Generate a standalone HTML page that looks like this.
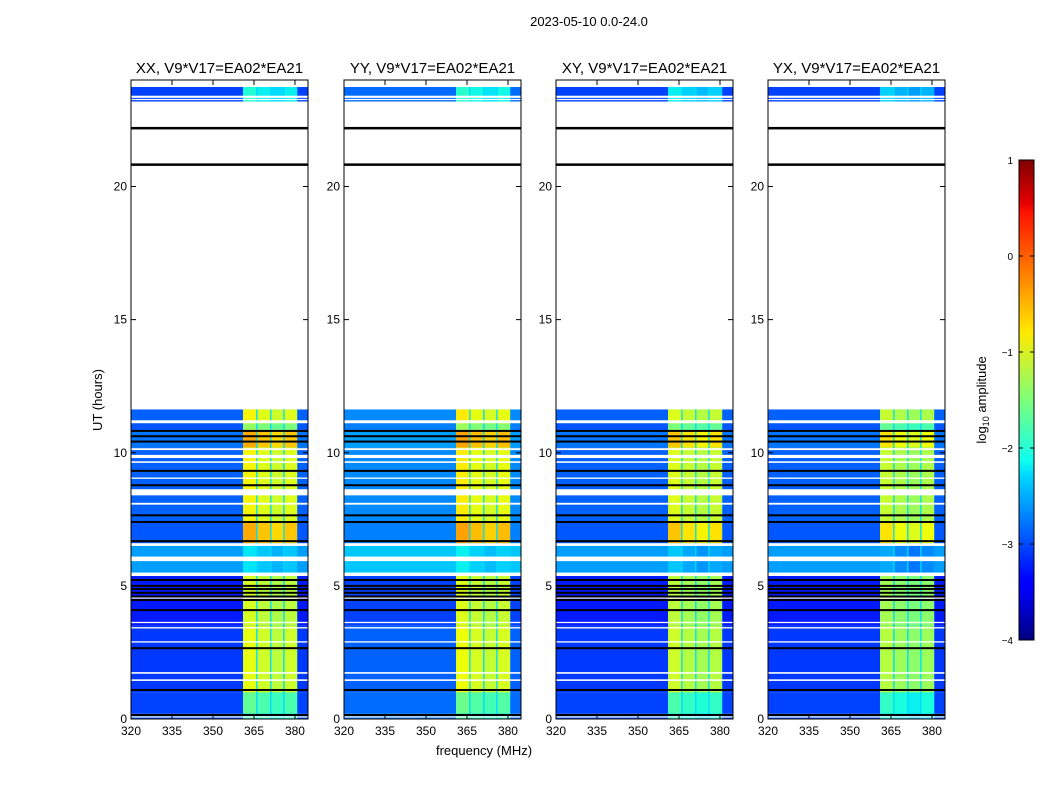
<!DOCTYPE html>
<html><head><meta charset="utf-8">
<style>
body{margin:0;background:#fff;width:1050px;height:800px;overflow:hidden}
svg text{font-family:"Liberation Sans","DejaVu Sans",sans-serif}
</style></head>
<body>
<svg id="fig" width="1050" height="800" viewBox="0 0 1050 800" xmlns="http://www.w3.org/2000/svg">
<defs>
<linearGradient id="jet" x1="0" y1="1" x2="0" y2="0">
<stop offset="0" stop-color="#000080"/><stop offset="0.11" stop-color="#0000ff"/>
<stop offset="0.125" stop-color="#0000ff"/><stop offset="0.34" stop-color="#00d5ff"/>
<stop offset="0.375" stop-color="#10ffef"/><stop offset="0.5" stop-color="#7dff7a"/>
<stop offset="0.64" stop-color="#ffea00"/><stop offset="0.66" stop-color="#ffd800"/>
<stop offset="0.89" stop-color="#ff1300"/><stop offset="0.91" stop-color="#e60000"/>
<stop offset="1" stop-color="#800000"/>
</linearGradient>
</defs>
<text x="589" y="26" font-size="13" text-anchor="middle">2023-05-10 0.0-24.0</text>
<g id="panels"></g>
<text x="484" y="755" font-size="13" text-anchor="middle">frequency (MHz)</text>
<text transform="translate(102,400) rotate(-90)" font-size="13" text-anchor="middle">UT (hours)</text>
<g id="cbar">
<rect x="1019" y="160" width="15" height="480" fill="url(#jet)" stroke="#000" stroke-width="1"/>
</g>
<text transform="translate(986,400) rotate(-90)" font-size="13" text-anchor="middle">log<tspan font-size="9" dy="3">10</tspan><tspan dy="-3"> amplitude</tspan></text>
</svg>
<script>
// ---- data ----
const panelTitles = ["XX, V9*V17=EA02*EA21","YY, V9*V17=EA02*EA21","XY, V9*V17=EA02*EA21","YX, V9*V17=EA02*EA21"];
const panelBgOffset = [0, 0.2, 0, 0];
const panelBandOffset = [0, 0.05, -0.15, -0.3];
// time segments: [start h, end h, background log-amp, band log-amp]
const segStart = [0.0, 0.2, 1.0, 3.5, 5.4, 6.6, 7.4, 10.2, 10.8, 11.1, 23.19];
const segEnd   = [0.2, 1.0, 3.5, 5.4, 6.6, 7.4, 10.2, 10.8, 11.1, 11.63, 23.74];
const segBg    = [-3.0,-3.05,-3.1,-3.25,-2.6,-2.95,-2.9,-2.8,-2.95,-2.9,-3.05];
const segBand  = [-2.0,-1.8,-1.0,-1.1,-2.4,-0.5,-0.9,-0.5,-1.5,-0.9,-2.2];
// frequency sub-bands of the bright region (MHz)
const bandLo = [361.0, 366.3, 371.4, 376.2];
const bandHi = [365.8, 370.9, 375.7, 380.8];
const gapLevel = -2.3;
// flagged rows
const whiteLo = [0.06,1.43,1.70,2.87,3.40,3.60,4.52,5.37,5.93,6.50,8.05,8.40,9.02,9.62,9.80,10.10,11.11,11.63,23.26,23.33,23.74];
const whiteHi = [0.10,1.49,1.76,2.92,3.45,3.65,4.57,5.50,6.10,6.60,8.12,8.63,9.07,9.68,9.92,10.17,11.22,23.19,23.29,23.41,23.89];
const blackLines = [0.15,1.09,2.66,4.09,4.47,4.60,4.74,4.88,5.0,5.22,6.68,7.40,7.65,8.78,9.32,10.42,10.62,10.82,20.83,22.2];
const xTicks = [320,335,350,365,380];
const yTicks = [0,5,10,15,20];
const cbTicks = [1,0,-1,-2,-3,-4];
const cbLabels = ["1","0","\u22121","\u22122","\u22123","\u22124"];

// ---- scales ----
const panelX = [131,344,556,768], PW = 177, Y0 = 719, Y1 = 80;
const xs = (f,i)=>panelX[i]+(f-320)*2.733;
const ys = h=>Y0-(h/24)*(Y0-Y1);
function jet(v){
  let t=Math.max(0,Math.min(1,(v+4)/5));
  const ip=(pts)=>{for(let k=1;k<pts.length;k++){if(t<=pts[k][0]){const a=pts[k-1],b=pts[k];return a[1]+(b[1]-a[1])*(t-a[0])/(b[0]-a[0]);}}return pts[pts.length-1][1];};
  const r=ip([[0,0],[0.35,0],[0.66,1],[0.89,1],[1,0.5]]);
  const g=ip([[0,0],[0.125,0],[0.375,1],[0.64,1],[0.91,0],[1,0]]);
  const b=ip([[0,0.5],[0.11,1],[0.34,1],[0.65,0],[1,0]]);
  return `rgb(${Math.round(r*255)},${Math.round(g*255)},${Math.round(b*255)})`;
}
const NS="http://www.w3.org/2000/svg";
function mk(tag,attrs,parent){const e=document.createElementNS(NS,tag);for(const k in attrs)e.setAttribute(k,attrs[k]);parent.appendChild(e);return e;}
const root=document.getElementById('panels');
panelTitles.forEach((title,i)=>{
  const g=mk('g',{},root);
  
  
  const x0=panelX[i];
  segStart.forEach((s,k)=>{
    const yT=ys(segEnd[k]), yB=ys(s);
    const r=mk('rect',{x:x0,y:yT,width:PW,height:yB-yT,fill:jet(segBg[k]+panelBgOffset[i])},g);
    
    
    const gr=mk('rect',{x:xs(bandLo[0],i),y:yT,width:xs(bandHi[3],i)-xs(bandLo[0],i),height:yB-yT,fill:jet(Math.max(segBg[k]+panelBgOffset[i],gapLevel))},g);
    
    
    bandLo.forEach((lo,b)=>{
      const lv=segBand[k]+panelBandOffset[i]+(b===0?0.15:(b===2?-0.1:0));
      const c=mk('rect',{x:xs(lo,i),y:yT,width:xs(bandHi[b],i)-xs(lo,i),height:yB-yT,fill:jet(lv)},g);
      
      
    });
  });
  whiteLo.forEach((lo,k)=>{
    const yT=ys(whiteHi[k]),yB=ys(lo);
    const w=mk('rect',{x:x0,y:yT,width:PW,height:Math.max(1.2,yB-yT),fill:'#fff'},g);
    
    
  });
  blackLines.forEach(h=>{
    const bl=mk('rect',{x:x0,y:ys(h)-1,width:PW,height:h>20?2.5:2,fill:'#000'},g);
    
    
  });
  const fr=mk('rect',{x:x0,y:Y1,width:PW,height:Y0-Y1,fill:'none',stroke:'#000','stroke-width':1},g);
  
  
  const tt=mk('text',{x:x0+PW/2,y:73,'font-size':15,'text-anchor':'middle'},g);
  tt.textContent=title;
  
  
  xTicks.forEach(f=>{
    const x=xs(f,i);
    mk('line',{x1:x,x2:x,y1:Y0,y2:Y0-5,stroke:'#000'},g);
    mk('line',{x1:x,x2:x,y1:Y1,y2:Y1+5,stroke:'#000'},g);
    const t=mk('text',{x:x,y:Y0+16,'font-size':12,'text-anchor':'middle'},g);
    t.textContent=f;
    
    
  });
  yTicks.forEach(h=>{
    const y=ys(h);
    mk('line',{x1:x0,x2:x0+5,y1:y,y2:y,stroke:'#000'},g);
    mk('line',{x1:x0+PW,x2:x0+PW-5,y1:y,y2:y,stroke:'#000'},g);
    const t=mk('text',{x:x0-4,y:y+4,'font-size':12,'text-anchor':'end'},g);
    t.textContent=h;
    
    
  });
});
const cb=document.getElementById('cbar');
cbTicks.forEach((v,k)=>{
  const y=160+(1-v)*96;
  mk('line',{x1:1019,x2:1023,y1:y,y2:y,stroke:'#000'},cb);
  mk('line',{x1:1034,x2:1030,y1:y,y2:y,stroke:'#000'},cb);
  const t=mk('text',{x:1013,y:y+4,'font-size':10,'text-anchor':'end'},cb);
  t.textContent=cbLabels[k];
  
  
});
</script>
</body></html>
